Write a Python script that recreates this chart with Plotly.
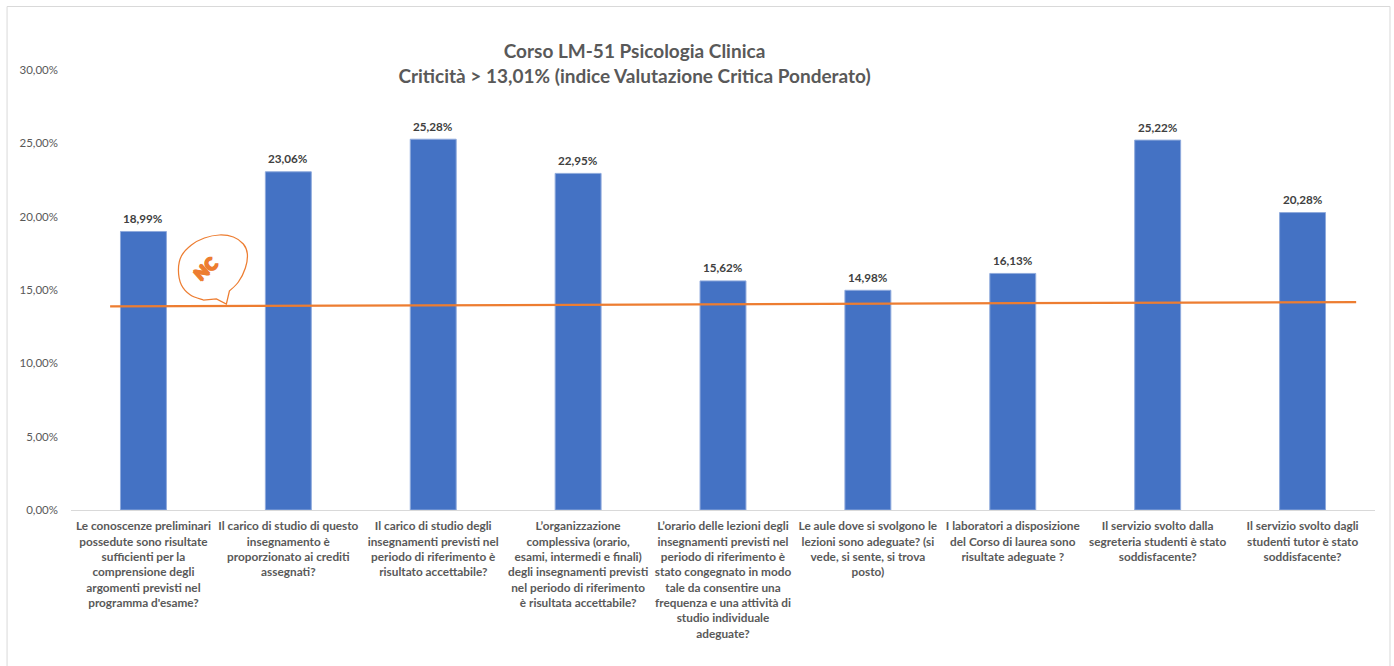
import plotly.graph_objects as go

categories = [
    "Le conoscenze preliminari<br>possedute sono risultate<br>sufficienti per la<br>comprensione degli<br>argomenti previsti nel<br>programma d'esame?",
    "Il carico di studio di questo<br>insegnamento è<br>proporzionato ai crediti<br>assegnati?",
    "Il carico di studio degli<br>insegnamenti previsti nel<br>periodo di riferimento è<br>risultato accettabile?",
    "L’organizzazione<br>complessiva (orario,<br>esami, intermedi e finali)<br>degli insegnamenti previsti<br>nel periodo di riferimento<br>è risultata accettabile?",
    "L’orario delle lezioni degli<br>insegnamenti previsti nel<br>periodo di riferimento è<br>stato congegnato in modo<br>tale da consentire una<br>frequenza e una attività di<br>studio individuale<br>adeguate?",
    "Le aule dove si svolgono le<br>lezioni sono adeguate? (si<br>vede, si sente, si trova<br>posto)",
    "I laboratori a disposizione<br>del Corso di laurea sono<br>risultate adeguate ?",
    "Il servizio svolto dalla<br>segreteria studenti è stato<br>soddisfacente?",
    "Il servizio svolto dagli<br>studenti tutor è stato<br>soddisfacente?",
]
values = [18.99, 23.06, 25.28, 22.95, 15.62, 14.98, 16.13, 25.22, 20.28]
positions = list(range(9))
trend_x = [-0.23, 8.37]
trend_y = [13.88, 14.18]
y_ticks = [0, 5, 10, 15, 20, 25, 30]
y_labels = ["0,00%", "5,00%", "10,00%", "15,00%", "20,00%", "25,00%", "30,00%"]
title = "Corso LM-51 Psicologia Clinica<br>Criticità > 13,01% (indice Valutazione Critica Ponderato)"

W, H = 1394, 666
L, R, T, B = 70.5, 18.5, 70, 156
FONT = "Lato, Carlito, sans-serif"
BLUE, ORANGE = "#4472C4", "#ED7D31"
GREY = "#595959"

def px(x):
    return (x - L) / (W - L - R)

def py(y):
    return 1 - (y - T) / (H - T - B)

# speech-bubble outline, in picture pixels
def bubble():
    p = [(226, 304), (229, 291), (238, 282), (245, 268), (247, 254), (243, 244), (233, 237),
         (219, 235), (204, 238), (191, 245), (181, 256), (178, 270), (181, 285), (190, 295),
         (203, 300), (216, 299), (226, 304)]
    s = f"M {px(p[0][0]):.5f},{py(p[0][1]):.5f}"
    s += f" L {px(p[1][0]):.5f},{py(p[1][1]):.5f}"
    pts = p[1:15]
    for i in range(len(pts) - 1):
        a = pts[max(i - 1, 0)]; b = pts[i]; c = pts[i + 1]; d = pts[min(i + 2, len(pts) - 1)]
        c1 = (b[0] + (c[0] - a[0]) / 6, b[1] + (c[1] - a[1]) / 6)
        c2 = (c[0] - (d[0] - b[0]) / 6, c[1] - (d[1] - b[1]) / 6)
        s += f" C {px(c1[0]):.5f},{py(c1[1]):.5f} {px(c2[0]):.5f},{py(c2[1]):.5f} {px(c[0]):.5f},{py(c[1]):.5f}"
    s += f" L {px(p[15][0]):.5f},{py(p[15][1]):.5f} Z"
    return s

value_labels = [
    dict(text=f"{v:.2f}%".replace(".", ","), x=x, y=v, xref="x", yref="y",
         showarrow=False, xanchor="center", yanchor="bottom", yshift=4.5,
         font=dict(family=FONT, size=11.7, color="#404040", weight="bold"))
    for x, v in zip(positions, values)
]

fig = go.Figure()
fig.add_trace(go.Bar(
    x=positions, y=values, width=0.317,
    marker=dict(color=BLUE, line=dict(color="#8FAADC", width=1)),
    hoverinfo="skip",
))
fig.add_trace(go.Scatter(
    x=trend_x, y=trend_y, mode="lines",
    line=dict(color=ORANGE, width=2.25), hoverinfo="skip",
))
fig.update_layout(
    width=W, height=H, autosize=False, showlegend=False,
    margin=dict(l=L, r=R, t=T, b=B, pad=0),
    paper_bgcolor="white", plot_bgcolor="white",
    font=dict(family=FONT, color=GREY),
    title=dict(
        text=title, x=634.5 / W, xanchor="center", y=1 - 58 / H, yanchor="middle",
        font=dict(family=FONT, size=19, color="#595959", weight="bold"),
    ),
    xaxis=dict(
        range=[-0.5, 8.5], tickmode="array", tickvals=positions, ticktext=categories,
        tickangle=0, showgrid=False, zeroline=False, ticks="", ticklabelstandoff=5,
        showline=True, linecolor="#D9D9D9", linewidth=1,
        tickfont=dict(family=FONT, size=11.8, color=GREY, weight="bold"),
    ),
    yaxis=dict(
        range=[0, 30], tickmode="array", tickvals=y_ticks, ticktext=y_labels,
        showgrid=False, zeroline=False, ticks="", showline=False, ticklabelstandoff=12,
        tickfont=dict(family=FONT, size=11.5, color=GREY),
    ),
    shapes=[
        dict(type="rect", xref="paper", yref="paper", x0=px(6.5), x1=px(1390.5),
             y0=py(700), y1=py(6.5), line=dict(color="#D9D9D9", width=1), layer="below"),
        dict(type="path", xref="paper", yref="paper", path=bubble(),
             line=dict(color=ORANGE, width=1.25), fillcolor="white", layer="below"),
    ],
    annotations=value_labels + [
        dict(text="NC", xref="paper", yref="paper", x=px(205), y=py(268),
             showarrow=False, textangle=-42, xanchor="center", yanchor="middle",
             font=dict(family=FONT, size=17, color=ORANGE, weight=900,
                       shadow="1px 0 0 #ED7D31, -1px 0 0 #ED7D31, 0 1px 0 #ED7D31, 0 -1px 0 #ED7D31")),
    ],
)
fig.write_html("out.html", config=dict(displayModeBar=False),
               post_script="document.body.style.margin='0';")
